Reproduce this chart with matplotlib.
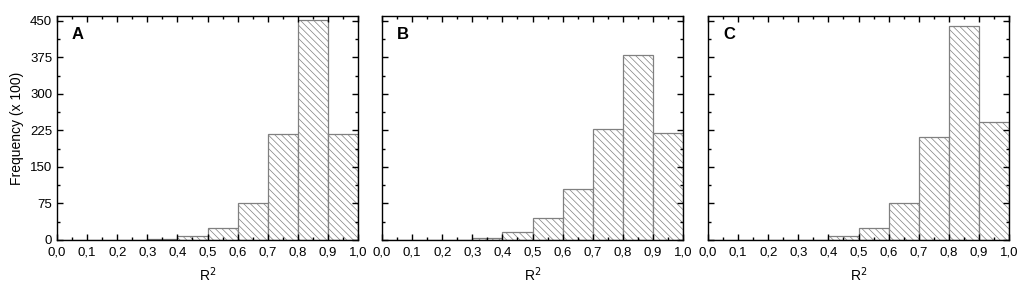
import matplotlib
matplotlib.use("Agg")
import matplotlib.pyplot as plt
from matplotlib.ticker import MultipleLocator, FuncFormatter
import numpy as np

plt.rcParams['font.family'] = ['Liberation Sans', 'DejaVu Sans']
plt.rcParams['hatch.color'] = '#b0b0b0'
plt.rcParams['hatch.linewidth'] = 0.5

bin_edges = [0.0, 0.1, 0.2, 0.3, 0.4, 0.5, 0.6, 0.7, 0.8, 0.9, 1.0]
freq_A = [0, 0, 0, 2, 8, 25, 77, 218, 452, 218]
freq_B = [0, 0, 1, 5, 17, 45, 105, 228, 380, 220]
freq_C = [0, 0, 0, 1, 9, 24, 75, 212, 440, 242]
panel_labels = ["A", "B", "C"]
yticks = [0, 75, 150, 225, 300, 375, 450]
xticks = [0.0, 0.1, 0.2, 0.3, 0.4, 0.5, 0.6, 0.7, 0.8, 0.9, 1.0]

fig = plt.figure(figsize=(10.24, 2.89), dpi=100)
lefts = [57, 382, 708]
W, H = 1024, 289
for i, (freq, lab) in enumerate(zip([freq_A, freq_B, freq_C], panel_labels)):
    ax = fig.add_axes([lefts[i] / W, 1 - 240 / H, 301 / W, 224 / H])
    widths = np.diff(bin_edges)
    ax.bar(bin_edges[:-1], freq, width=widths, align='edge', facecolor='white',
           edgecolor='#808080', linewidth=0.9, hatch='\\\\\\\\\\')
    ax.set_xlim(0, 1.0)
    ax.set_ylim(0, 460)
    ax.set_xticks(xticks)
    ax.xaxis.set_major_formatter(FuncFormatter(lambda v, p: f"{v:.1f}".replace('.', ',')))
    ax.xaxis.set_minor_locator(MultipleLocator(0.05))
    ax.set_yticks(yticks)
    ax.yaxis.set_minor_locator(MultipleLocator(37.5))
    ax.tick_params(which='both', direction='in', top=True, right=True, labelsize=9.5,
                   width=1.0, colors='black')
    ax.tick_params(axis='x', which='major', pad=5)
    ax.tick_params(which='major', length=4)
    ax.tick_params(which='minor', length=2)
    for s in ax.spines.values():
        s.set_linewidth(1.0)
    if i > 0:
        ax.set_yticklabels([])
    else:
        ax.set_ylabel("Frequency (x 100)", fontsize=10, labelpad=4)
    ax.set_xlabel("R$^2$", fontsize=10, labelpad=5)
    ax.text(0.05, 0.95, lab, transform=ax.transAxes, fontsize=12, fontweight='bold',
            va='top', ha='left')

fig.savefig("out.png", dpi=100)
